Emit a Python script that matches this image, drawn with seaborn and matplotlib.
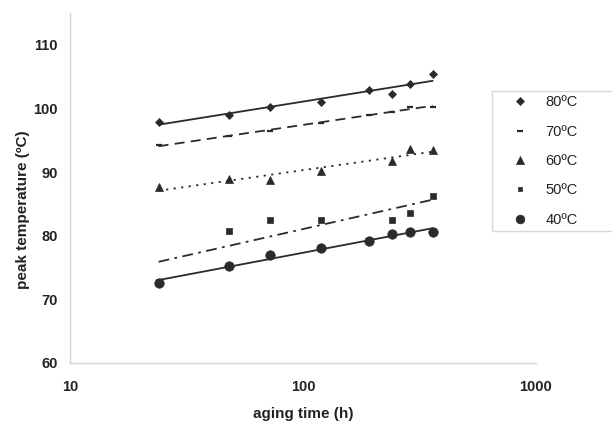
import numpy as np
import pandas as pd
import matplotlib
matplotlib.use("Agg")
import matplotlib.pyplot as plt
from matplotlib.lines import Line2D
import seaborn as sns

# Aging times (h) and peak temperatures (ºC) per aging temperature
hours_full = [24, 48, 72, 120, 192, 240, 288, 360]
hours_no192 = [24, 48, 72, 120, 240, 288, 360]

t80 = [97.9, 99.0, 100.3, 101.0, 102.9, 102.3, 103.8, 105.4]
t70 = [94.3, 95.6, 96.4, 97.7, 99.0, 99.5, 100.2, 100.3]
t60 = [87.6, 88.9, 88.7, 90.2, 91.8, 93.6, 93.4]
t50 = [72.7, 80.7, 82.5, 82.4, 82.5, 83.6, 86.2]
t40 = [72.5, 75.3, 76.9, 78.0, 79.1, 80.3, 80.6, 80.6]

series_labels = ["80ºC", "70ºC", "60ºC", "50ºC", "40ºC"]

x_ticks = [10, 100, 1000]
y_ticks = [60, 70, 80, 90, 100, 110]

sns.set_style("white")
plt.rcParams["font.family"] = ["Liberation Sans", "DejaVu Sans"]

ink = "#2a2a2a"
axis_grey = "#d4d4d4"

# (hours, values, marker, marker size, trend line style)
series = [
    (hours_full, t80, "D", 4.1, "-"),
    (hours_full, t70, "_", 4.8, (0, (5.5, 3.5))),
    (hours_no192, t60, "^", 5.8, (0, (1.2, 3.0))),
    (hours_no192, t50, "s", 3.9, (0, (6, 3, 1.5, 3))),
    (hours_full, t40, "o", 6.8, "-"),
]

fig = plt.figure(figsize=(6.12, 4.21), dpi=100)
ax = fig.add_axes([70 / 612, 1 - 363 / 421, 466 / 612, 350 / 421])
ax.set_xscale("log")

for (hrs, vals, mk, ms, ls), lab in zip(series, series_labels):
    df = pd.DataFrame({"hours": hrs, "peak": vals})
    # logarithmic trend line: peak = a + b*ln(t)
    sns.regplot(data=df, x="hours", y="peak", logx=True, ci=None, scatter=False,
                ax=ax, color=ink, line_kws={"linestyle": ls, "linewidth": 1.3})
    ax.plot(df["hours"], df["peak"], linestyle="none", marker=mk, markersize=ms,
            color=ink, markeredgecolor=ink,
            markeredgewidth=1.6 if mk == "_" else 0.5, zorder=3)

ax.set_xlim(10, 1000)
ax.set_ylim(60, 115)
ax.set_xticks(x_ticks)
ax.set_xticklabels([str(v) for v in x_ticks])
ax.xaxis.set_minor_locator(matplotlib.ticker.NullLocator())
ax.set_yticks(y_ticks)

for side in ["top", "right"]:
    ax.spines[side].set_visible(False)
for side in ["left", "bottom"]:
    ax.spines[side].set_color(axis_grey)
    ax.spines[side].set_linewidth(1.0)

ax.tick_params(axis="y", direction="out", length=4, width=1, color=axis_grey,
               pad=5.0, labelsize=10.5, labelcolor="#222222")
ax.tick_params(axis="x", direction="in", length=4, width=1, color=axis_grey,
               pad=12, labelsize=10.5, labelcolor="#222222")
for lbl in ax.get_xticklabels() + ax.get_yticklabels():
    lbl.set_fontweight("bold")

ax.set_xlabel("aging time (h)", fontsize=11, fontweight="bold", color="#222222",
              va="center")
ax.set_ylabel("peak temperature (ºC)", fontsize=11, fontweight="bold",
              color="#222222", va="center")
ax.xaxis.set_label_coords(0.5, -0.147)
ax.yaxis.set_label_coords(-0.101, 0.437)

handles = []
for (hrs, vals, mk, ms, ls), lab in zip(series, series_labels):
    handles.append(Line2D([], [], linestyle="none", marker=mk,
                          markersize=ms * 0.92, color=ink, markeredgecolor=ink,
                          markeredgewidth=1.6 if mk == "_" else 0.5, label=lab))

leg = fig.legend(handles=handles, loc="upper left",
                 bbox_to_anchor=(492 / 612, 1 - 232 / 421, 0.3, 141 / 421),
                 mode="expand", borderaxespad=0, frameon=True, fancybox=False,
                 fontsize=10.5, labelspacing=1.05, handlelength=3.2,
                 handletextpad=0.15, borderpad=0.3)
leg.get_frame().set_edgecolor("#cfcfcf")
leg.get_frame().set_linewidth(1.0)
for t in leg.get_texts():
    t.set_color("#222222")

fig.savefig("out.png", dpi=100)
